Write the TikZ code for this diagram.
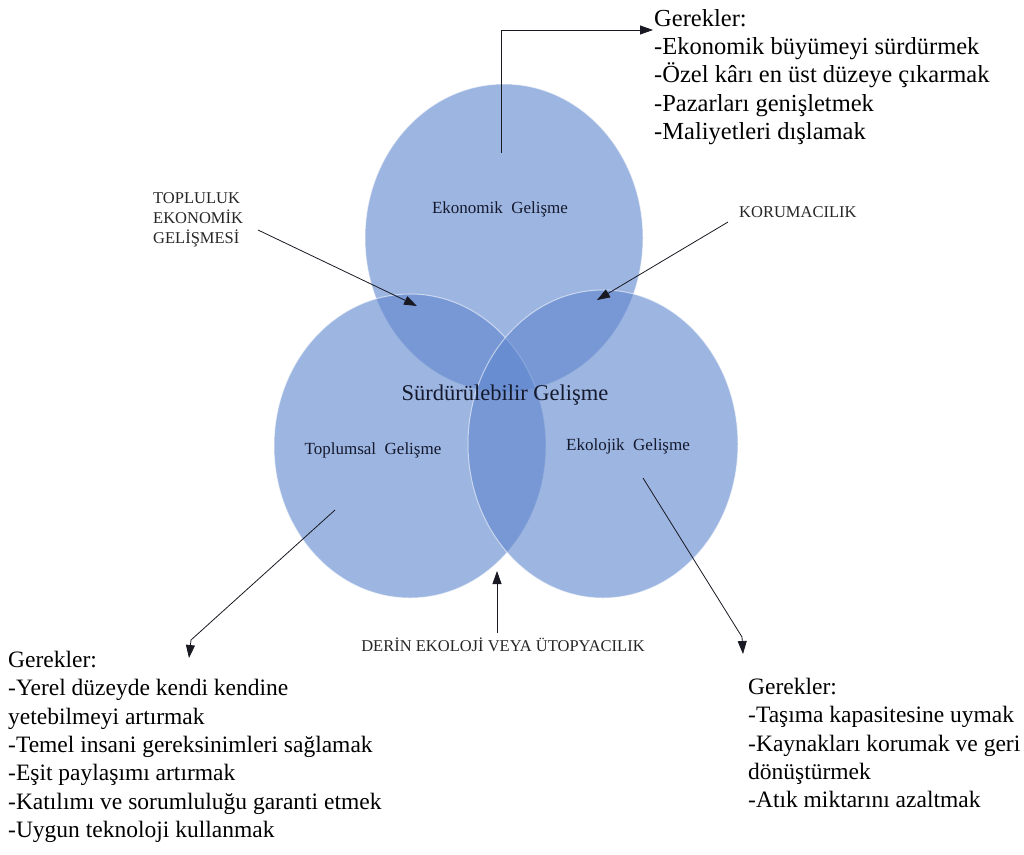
\documentclass[tikz,border=0pt]{standalone}
\usepackage{fontspec}
\setmainfont{Liberation Serif}
\usetikzlibrary{arrows.meta,shapes.geometric}
\definecolor{circblue}{RGB}{96,135,206}
\definecolor{inkc}{RGB}{25,25,35}
\definecolor{txtc}{RGB}{20,25,45}
\begin{document}
\begin{tikzpicture}[x=1pt,y=-1pt,
  circ/.style={ellipse, inner sep=0pt, fill=circblue, fill opacity=0.61,
    draw=white, draw opacity=0.55, line width=1pt},
  circlabel/.style={inner sep=0pt, text=txtc, font=\fontsize{17}{20}\selectfont},
  biglabel/.style={inner sep=0pt, text=txtc, font=\fontsize{22.5}{26}\selectfont},
  capslabel/.style={inner sep=0pt, align=left, text=black!85, font=\fontsize{16.5}{20}\selectfont},
  listtext/.style={inner sep=0pt, align=left, text=black, font=\fontsize{23.5}{28.3}\selectfont},
  arr/.style={draw=inkc, line width=0.8pt, -{Triangle[length=13pt,width=9pt]}}]
\useasboundingbox (0,0) rectangle (1024,854);
\fill[white] (0,0) rectangle (1024,854);

% circles
\node[circ, minimum width=278pt, minimum height=308pt] (eco) at (504,238) {};
\node[circ, minimum width=272pt, minimum height=304pt] (soc) at (410,446) {};
\node[circ, minimum width=270pt, minimum height=308pt] (ecol) at (603,444) {};

% circle labels
\node[circlabel, anchor=base] (ecolab) at (500,213) {Ekonomik\ \ Gelişme};
\node[biglabel, anchor=base] (sdlab) at (505,400) {Sürdürülebilir Gelişme};
\node[circlabel, anchor=base] (soclab) at (373,454) {Toplumsal\ \ Gelişme};
\node[circlabel, anchor=base] (ecollab) at (628,450) {Ekolojik\ \ Gelişme};

% caps labels
\node[capslabel, anchor=north west] (toplab) at (153,192.5) {TOPLULUK\\EKONOMİK\\GELİŞMESİ};
\node[capslabel, anchor=west] (korlab) at (739,212) {KORUMACILIK};
\node[capslabel, anchor=center] (derlab) at (503,645) {DERİN EKOLOJİ VEYA ÜTOPYACILIK};

% requirement lists
\node[listtext, anchor=north west, font=\fontsize{24.5}{28.3}\selectfont] (topreq) at (654,9) {Gerekler:\\-Ekonomik büyümeyi sürdürmek\\-Özel kârı en üst düzeye çıkarmak\\-Pazarları genişletmek\\-Maliyetleri dışlamak};
\node[listtext, anchor=north west] (blreq) at (8,651) {Gerekler:\\-Yerel düzeyde kendi kendine\\yetebilmeyi artırmak\\-Temel insani gereksinimleri sağlamak\\-Eşit paylaşımı artırmak\\-Katılımı ve sorumluluğu garanti etmek\\-Uygun teknoloji kullanmak};
\node[listtext, anchor=north west] (brreq) at (748,678) {Gerekler:\\-Taşıma kapasitesine uymak\\-Kaynakları korumak ve geri\\dönüştürmek\\-Atık miktarını azaltmak};

% connector coordinates
\coordinate (ecoStart) at (501,153);
\coordinate (ecoTip) at (653,30);
\coordinate (topStart) at (258,230);
\coordinate (topTip) at (417,306);
\coordinate (korStart) at (728,222);
\coordinate (korTip) at (597,300);
\coordinate (blStart) at (335,510);
\coordinate (blBend) at (191,640);
\coordinate (blTip) at (189,658);
\coordinate (brStart) at (643,478);
\coordinate (brBend) at (742,637);
\coordinate (brTip) at (743,654);
\coordinate (cStart) at (497,633);
\coordinate (cTip) at (497,571);

% connectors
\draw[arr] (ecoStart) |- (ecoTip);
\draw[arr] (topStart) -- (topTip);
\draw[arr] (korStart) -- (korTip);
\draw[arr] (blStart) -- (blBend) -- (blTip);
\draw[arr] (brStart) -- (brBend) -- (brTip);
\draw[arr] (cStart) -- (cTip);
\end{tikzpicture}
\end{document}
